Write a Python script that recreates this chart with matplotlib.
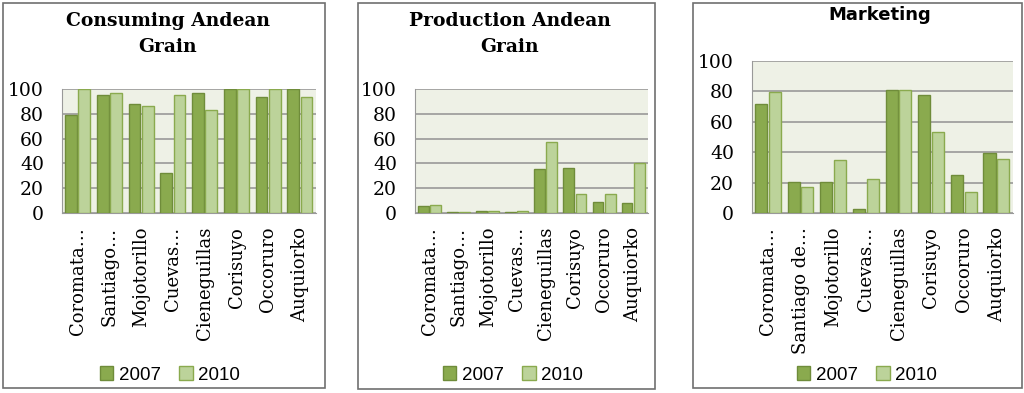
import numpy as np
import matplotlib.pyplot as plt
from matplotlib.patches import Rectangle

# Data (percent)
villages = ['Coromata…', 'Santiago…', 'Mojotorillo', 'Cuevas…',
            'Cieneguillas', 'Corisuyo', 'Occoruro', 'Auquiorko']
villages_mkt = ['Coromata…', 'Santiago de…', 'Mojotorillo', 'Cuevas…',
                'Cieneguillas', 'Corisuyo', 'Occoruro', 'Auquiorko']

consuming_2007 = [79, 95, 88, 32, 97, 100, 93.5, 100]
consuming_2010 = [100, 97, 86, 95, 83, 100, 100, 93.5]

production_2007 = [5.4, 1, 2, 1, 35.3, 36.4, 8.9, 7.8]
production_2010 = [6.7, 1, 2, 2, 57.4, 15.4, 15.4, 40.7]

marketing_2007 = [71.8, 20.4, 20.4, 2.6, 80.7, 77.9, 25.2, 39.4]
marketing_2010 = [79.4, 16.8, 34.8, 22.3, 80.7, 53.6, 13.6, 35.7]

c2007, e2007 = '#8aaa4e', '#6f8c3a'
c2010, e2010 = '#bcd39a', '#8aaa4e'

W, H = 1024, 393
fig = plt.figure(figsize=(W / 100, H / 100), dpi=100)


def px(x0, y0, x1, y1):
    # pixel box (top-left origin) -> figure fraction [l, b, w, h]
    return [x0 / W, (H - y1) / H, (x1 - x0) / W, (y1 - y0) / H]


panels = [
    dict(frame=(3, 3, 325, 388), plot=(62, 89, 316, 213),
         title='Consuming Andean\nGrain', tfont='serif', ty=34, tx=168,
         labels=villages, v07=consuming_2007, v10=consuming_2010, lx=170),
    dict(frame=(358, 3, 655, 389), plot=(415, 89, 648, 213),
         title='Production Andean\nGrain', tfont='serif', ty=34, tx=510,
         labels=villages, v07=production_2007, v10=production_2010, lx=513),
    dict(frame=(693, 3, 1022, 388), plot=(752, 61, 1013, 213),
         title='Marketing', tfont='sans-serif', ty=15, tx=880,
         labels=villages_mkt, v07=marketing_2007, v10=marketing_2010, lx=867),
]

for p in panels:
    x0, y0, x1, y1 = p['frame']
    fig.patches.append(Rectangle((x0 / W, (H - y1) / H), (x1 - x0) / W, (y1 - y0) / H,
                                 transform=fig.transFigure, fill=False,
                                 edgecolor='#707070', linewidth=1.2))

    ax = fig.add_axes(px(*p['plot']))
    ax.set_facecolor('#eef1e6')
    x = np.arange(len(p['labels']))
    ax.bar(x - 0.22, p['v07'], width=0.37, color=c2007, edgecolor=e2007,
           linewidth=1, label='2007', zorder=3)
    ax.bar(x + 0.2, p['v10'], width=0.37, color=c2010, edgecolor=e2010,
           linewidth=1, label='2010', zorder=3)
    ax.set_xlim(-0.5, len(x) - 0.5)
    ax.set_ylim(0, 100)
    ax.set_yticks(range(0, 101, 20))
    ax.yaxis.grid(True, color='#999999', linewidth=1.2, zorder=1)
    for s in ['right', 'top']:
        ax.spines[s].set_visible(False)
    ax.spines['left'].set_color('#999999')
    ax.spines['bottom'].set_color('#999999')
    ax.set_xticks(x)
    ax.set_xticklabels(p['labels'], rotation=90, family='DejaVu Serif', fontsize=13)
    ax.tick_params(axis='x', length=0, pad=10)
    ax.tick_params(axis='y', length=0, pad=13)
    for t in ax.get_yticklabels():
        t.set_family('DejaVu Serif')
        t.set_fontsize(13.5)

    if p['tfont'] == 'serif':
        fig.text(p['tx'] / W, 1 - p['ty'] / H, p['title'], ha='center', va='center',
                 family='DejaVu Serif', fontweight='bold', fontsize=13.5, linespacing=1.6)
    else:
        fig.text(p['tx'] / W, 1 - p['ty'] / H, p['title'], ha='center', va='center',
                 family='DejaVu Sans', fontweight='bold', fontsize=13)

    ax.legend(loc='center', bbox_to_anchor=(p['lx'] / W, 1 - 375 / H),
              bbox_transform=fig.transFigure, ncol=2, frameon=False,
              prop={'family': 'Liberation Sans', 'size': 13.5},
              handlelength=0.7, handleheight=0.7, handletextpad=0.3,
              columnspacing=1.0, borderpad=0)

fig.savefig('out.png', dpi=100)
